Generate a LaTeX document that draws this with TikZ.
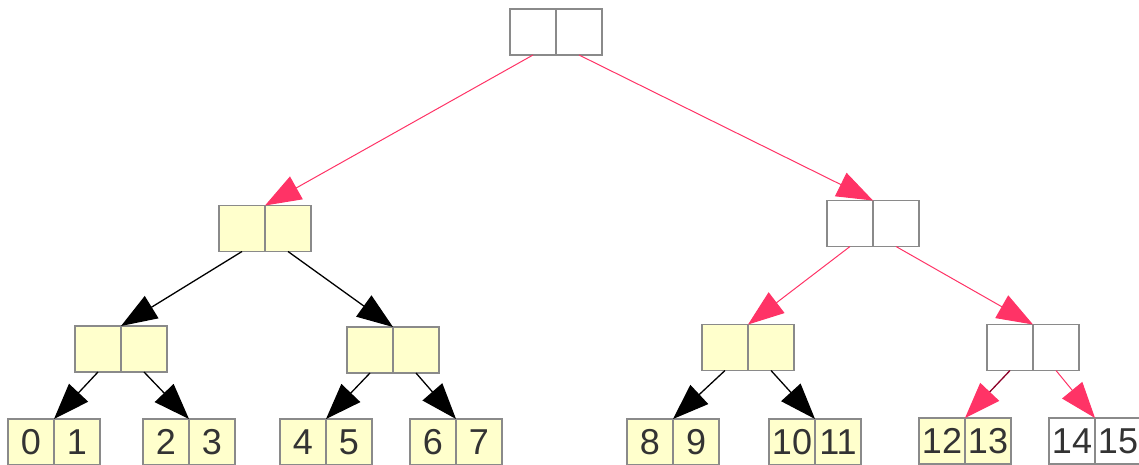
\documentclass[tikz,border=0pt]{standalone}
\usepackage{fontspec}
\setmainfont{Liberation Sans}
\usetikzlibrary{positioning,arrows.meta}
\definecolor{cellfill}{HTML}{FFFFCC}
\definecolor{cellline}{HTML}{8A8A8A}
\definecolor{digit}{HTML}{333333}
\definecolor{hot}{HTML}{FF3366}
\definecolor{hotdark}{HTML}{8C0028}
\tikzstyle{cell} = [draw=cellline, line width=1.5pt, minimum width=46pt, minimum height=46pt, inner sep=0pt, outer sep=0pt, text=digit, font={\fontsize{36}{42}\selectfont}]
\tikzstyle{seen} = [cell, fill=cellfill]
\tikzstyle{edge} = [line width=1.3pt, -{Triangle[length=36pt,width=26pt]}]
\tikzstyle{hotedge} = [edge, color=hot, line width=1pt]
\tikzstyle{darkedge} = [edge, draw=hotdark, -{Triangle[length=36pt,width=26pt,fill=hot,color=hot]}]

\begin{document}
\begin{tikzpicture}[x=1pt,y=-1pt]
    \useasboundingbox (0,0) rectangle (1139,465);
    % inner pairs
    \node[cell](n1a) at (533,32){};
    \node[cell,right=0pt of n1a](n1b){};
    \node[seen](n2a) at (242,228.5){};
    \node[seen,right=0pt of n2a](n2b){};
    \node[cell](n3a) at (850,223.5){};
    \node[cell,right=0pt of n3a](n3b){};
    \node[seen](n4a) at (98,349){};
    \node[seen,right=0pt of n4a](n4b){};
    \node[seen](n5a) at (370,350){};
    \node[seen,right=0pt of n5a](n5b){};
    \node[seen](n6a) at (725,347.5){};
    \node[seen,right=0pt of n6a](n6b){};
    \node[cell](n7a) at (1010,347.5){};
    \node[cell,right=0pt of n7a](n7b){};
    % leaf pairs
    \node[seen](0) at (31,442){0};
    \node[seen,right=0pt of 0](1){1};
    \node[seen](2) at (166,442){2};
    \node[seen,right=0pt of 2](3){3};
    \node[seen](4) at (303,442){4};
    \node[seen,right=0pt of 4](5){5};
    \node[seen](6) at (433,442){6};
    \node[seen,right=0pt of 6](7){7};
    \node[seen](8) at (650,442){8};
    \node[seen,right=0pt of 8](9){9};
    \node[seen](10) at (792,442){10};
    \node[seen,right=0pt of 10](11){11};
    \node[seen](12) at (942,441){12};
    \node[seen,right=0pt of 12](13){13};
    \node[cell](14) at (1072,441){14};
    \node[cell,right=0pt of 14](15){15};
    % pointers
    \draw[hotedge](n1a.south)--(n2a.north east);
    \draw[hotedge](n1b.south)--(n3a.north east);
    \draw[edge](n2a.south)--(n4a.north east);
    \draw[edge](n2b.south)--(n5a.north east);
    \draw[hotedge](n3a.south)--(n6a.north east);
    \draw[hotedge](n3b.south)--(n7a.north east);
    \draw[edge](n4a.south)--(0.north east);
    \draw[edge](n4b.south)--(2.north east);
    \draw[edge](n5a.south)--(4.north east);
    \draw[edge](n5b.south)--(6.north east);
    \draw[edge](n6a.south)--(8.north east);
    \draw[edge](n6b.south)--(10.north east);
    \draw[darkedge](n7a.south)--(12.north east);
    \draw[hotedge](n7b.south)--(14.north east);
\end{tikzpicture}
\end{document}
